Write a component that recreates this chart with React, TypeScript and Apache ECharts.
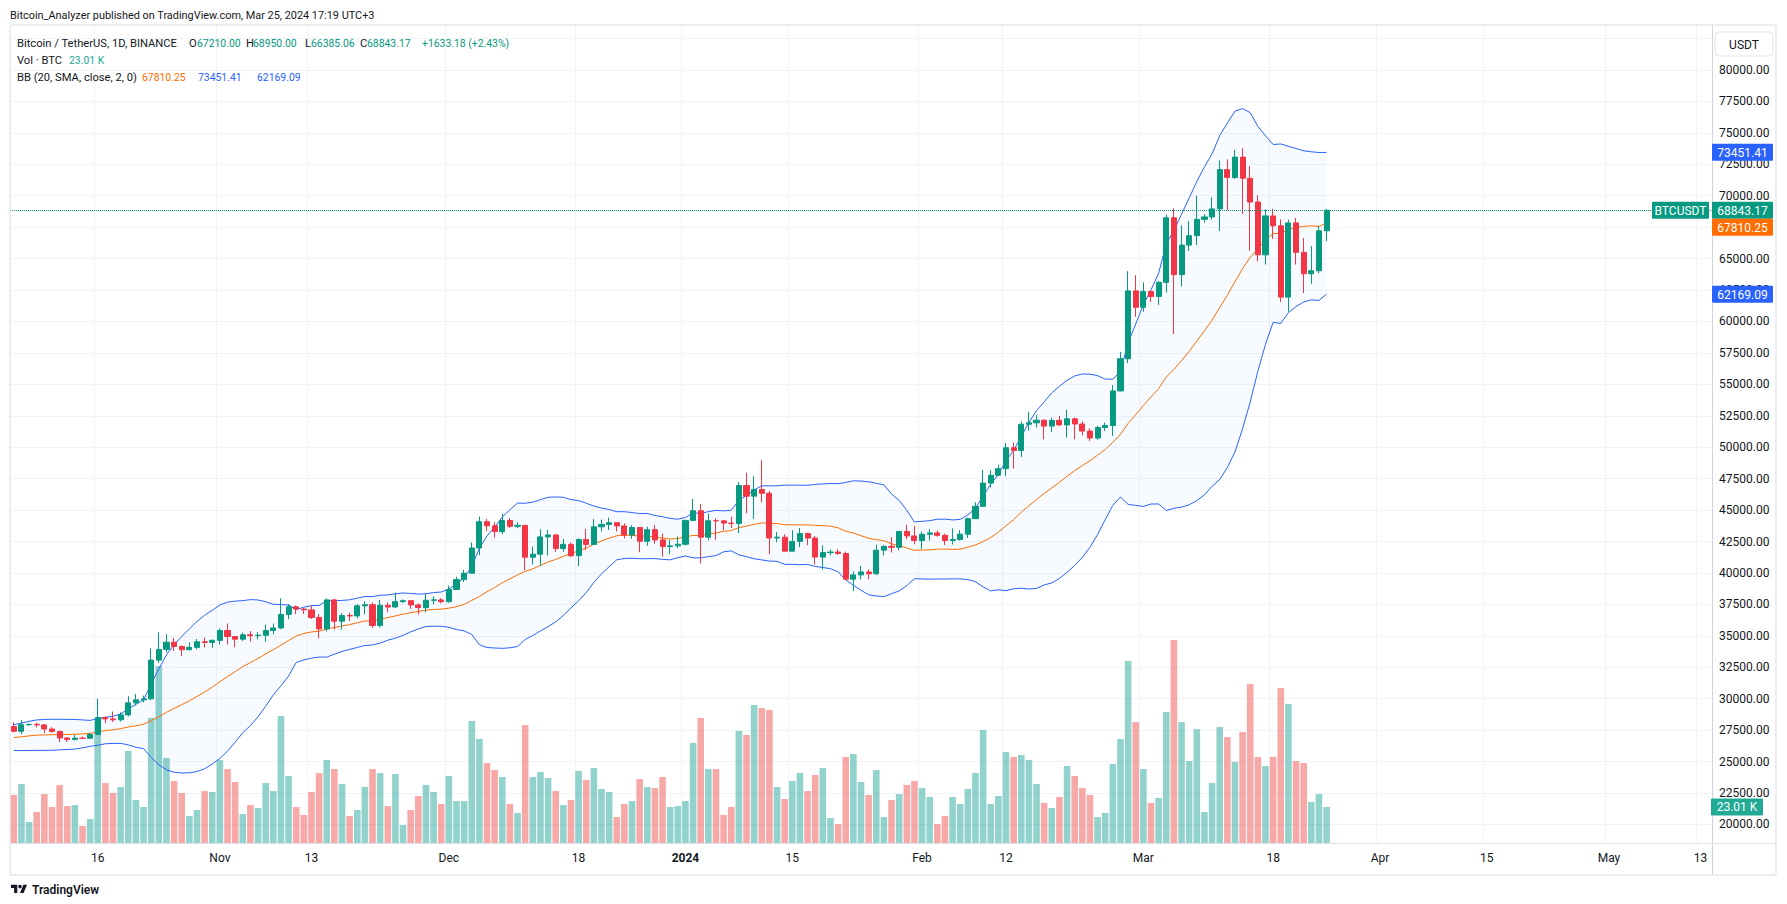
import React, { useEffect, useRef } from "react";
import * as echarts from "echarts";

const FONT = "Roboto, 'Noto Sans', 'DejaVu Sans', sans-serif";
const TEXT = "#131722";
const UP = "#089981";
const DOWN = "#f23645";
const VOL_UP = "rgba(38,166,154,0.5)";
const VOL_DOWN = "rgba(239,83,80,0.5)";
const BB_BLUE = "#2962ff";
const BB_ORANGE = "#ff6d00";
const GRID = "#f0f3fa";

// ---------- data ----------
const firstDay = [2023, 9, 5]; // 2023-10-05 (month 0-based)
const dayCount = 223; // Oct 5 2023 .. May 14 2024

const tickLabels: [string, string][] = [
  ["2023-10-16", "16"], ["2023-11-01", "Nov"], ["2023-11-13", "13"], ["2023-12-01", "Dec"],
  ["2023-12-18", "18"], ["2024-01-01", "2024"], ["2024-01-15", "15"], ["2024-02-01", "Feb"],
  ["2024-02-12", "12"], ["2024-03-01", "Mar"], ["2024-03-18", "18"], ["2024-04-01", "Apr"],
  ["2024-04-15", "15"], ["2024-05-01", "May"], ["2024-05-13", "13"],
];

// closes of Sep 16 .. Oct 4 2023 (only needed for the 20-day Bollinger window)
const warmupCloses = [
  26570, 26530, 26760, 27210, 27130, 26570, 26580, 26580, 26250, 26300,
  26210, 26350, 27020, 26910, 26970, 27990, 27500, 27430, 27790,
];

const opens = [
  27779, 27410, 27931, 27956, 27917, 27590, 27390, 26875, 26760, 26863, 26853, 27154, 28500, 28395, 28320, 28713, 29669, 29909, 29992, 33069, 33922, 34496, 34151, 33892, 34082, 34525, 34475,
  34639, 35421, 34941, 34731, 35082, 35011, 35047, 35425, 35625, 36702, 37310, 37130, 37064, 36462, 35551, 37858, 36163, 36613, 36585, 37387, 37476, 35814, 37432, 37289, 37720, 37797, 37454, 37242, 37832, 37859,
  37713, 38688, 39476, 39979, 41987, 44080, 43746, 43293, 44170, 43713, 43789, 41253, 41492, 42869, 43022, 41941, 42278, 41374, 42657, 42271, 43668, 43861, 43997, 43740, 43016, 43613, 42520, 43442, 42627, 42099, 42156,
  42283, 44180, 44946, 42845, 44152, 44145, 43968, 43929, 46951, 46110, 46633, 46339, 42782, 42847, 41732, 42511, 43137, 42776, 41262, 41618, 41665, 41545, 39507, 39846, 40077, 39934, 41816, 42120, 42035, 43300, 42946,
  42582, 43075, 43185, 42992, 42583, 42658, 43084, 44318, 45301, 47147, 47771, 48293, 49958, 49743, 51826, 51939, 52148, 51679, 52137, 51774, 52258, 51849, 51283, 50732, 51571, 51733, 54477, 57037, 62432,
  61130, 62387, 61987, 63113, 68246, 63724, 66074, 66823, 68124, 68313, 68955, 72078, 71452, 73072, 71388, 69499, 65300, 68393, 67609, 61937, 67840, 65501, 63796, 64037, 67210,
];
const highs = [
  28120, 28295, 28029, 28100, 27987, 27735, 27477, 26947, 27130, 26990, 27293, 30000, 28613, 28982, 28916, 30208, 30380, 30248, 34000, 35280, 35132, 34824, 34245, 34478, 34750, 34855, 34720,
  35576, 35984, 34946, 35260, 35380, 35286, 35892, 35980, 37972, 37526, 37400, 37222, 37417, 36744, 37980, 37929, 36800, 36845, 37509, 37750, 37651, 37856, 37653, 38432, 37893, 37827, 37589, 38377, 38150, 38000,
  38999, 39700, 40250, 42420, 44488, 44300, 44049, 44700, 44358, 44042, 43804, 42104, 43475, 43420, 43080, 42700, 42424, 42756, 43497, 44283, 44242, 44398, 43997, 43946, 43800, 43648, 43683, 43805, 43125, 42612, 42899,
  44186, 45879, 45500, 44729, 44342, 44214, 44480, 47248, 47972, 47695, 48969, 46515, 43257, 43079, 43400, 43578, 43198, 42930, 42196, 41861, 41878, 41689, 40129, 40555, 40288, 42246, 42200, 42842, 43306, 43838, 43745,
  43285, 43488, 43380, 43119, 43544, 43400, 44400, 45614, 48200, 48170, 48600, 50334, 50368, 52043, 52820, 52575, 52200, 52356, 52488, 52985, 52366, 52060, 51500, 51698, 51950, 54938, 57588, 64000, 63676,
  63114, 62433, 63231, 68499, 69000, 67637, 67985, 69990, 68541, 69887, 72800, 72900, 73650, 73777, 72357, 70043, 68904, 68956, 68124, 68100, 68240, 66650, 65999, 67622, 68950,
];
const lows = [
  27333, 27175, 27842, 27711, 27260, 27298, 26538, 26555, 26685, 26814, 26808, 27112, 28069, 28142, 28176, 28600, 29464, 29702, 29884, 32832, 33676, 33800, 33396, 33860, 33930, 34067, 34054,
  34300, 34300, 34099, 34582, 34528, 34728, 34525, 35110, 35534, 36333, 36732, 36731, 36333, 34800, 35361, 35500, 35500, 36178, 36390, 36700, 35632, 35670, 36870, 37251, 37617, 37151, 36700, 36868, 37500, 37589,
  37629, 38654, 39275, 39979, 41414, 43335, 42821, 43081, 43584, 43565, 40222, 40680, 40555, 41400, 41666, 41677, 41250, 40542, 41811, 42206, 43286, 43412, 43293, 42747, 42720, 41650, 42167, 42320, 41300, 41520, 41965,
  42180, 44148, 40750, 42613, 42632, 43397, 43572, 43175, 44748, 44300, 45606, 41500, 42436, 41720, 41718, 42050, 42200, 40683, 40280, 41394, 41446, 39431, 38555, 39484, 39500, 39822, 41395, 41620, 41804, 42683, 42276,
  41884, 42574, 42880, 42222, 42258, 42574, 42788, 44318, 45242, 46800, 47710, 47713, 48300, 49225, 51315, 51577, 50625, 51200, 51677, 50760, 50625, 50932, 50500, 50585, 51281, 50901, 54450, 56691, 60364,
  60777, 61561, 61321, 62300, 59005, 62787, 65602, 66082, 67862, 68094, 67194, 68845, 71333, 68555, 65630, 64780, 64533, 66565, 61555, 60775, 64529, 62260, 63000, 63825, 66385.06,
];
const closes = [
  27410, 27931, 27956, 27917, 27590, 27390, 26875, 26760, 26863, 26853, 27154, 28500, 28395, 28320, 28713, 29669, 29909, 29992, 33069, 33922, 34496, 34151, 33892, 34082, 34525, 34475, 34639,
  35421, 34941, 34731, 35082, 35011, 35047, 35425, 35625, 36702, 37310, 37130, 37064, 36462, 35551, 37858, 36163, 36613, 36585, 37387, 37476, 35814, 37432, 37289, 37720, 37797, 37454, 37242, 37832, 37859, 37713,
  38688, 39476, 39979, 41987, 44080, 43746, 43293, 44170, 43713, 43789, 41253, 41492, 42869, 43022, 41941, 42278, 41374, 42657, 42271, 43668, 43861, 43997, 43740, 43016, 43613, 42520, 43442, 42627, 42099, 42156, 42283,
  44180, 44946, 42845, 44152, 44145, 43968, 43929, 46951, 46110, 46633, 46339, 42782, 42847, 41732, 42511, 43137, 42776, 41262, 41618, 41665, 41545, 39507, 39846, 40077, 39934, 41816, 42120, 42035, 43300, 42946, 42582,
  43075, 43185, 42992, 42583, 42658, 43084, 44318, 45301, 47147, 47771, 48293, 49958, 49743, 51826, 51939, 52148, 51679, 52137, 51774, 52258, 51849, 51283, 50732, 51571, 51733, 54477, 57037, 62432, 61130,
  62387, 61987, 63113, 68246, 63724, 66074, 66823, 68124, 68313, 68955, 72078, 71452, 73072, 71388, 69499, 65300, 68393, 67609, 61937, 67840, 65501, 63796, 64037, 67210, 68843.17,
];
// volume in thousands of BTC
const volumesK = [
  30.7, 37.7, 13.4, 19.8, 31.3, 23.0, 37.1, 23.6, 24.3, 10.9, 15.3, 78.0, 38.3, 32.0, 35.8, 58.8, 27.5, 23.0, 80.0, 113.1, 54.3, 39.6, 32.0, 17.3, 21.1, 33.2, 32.6,
  53.0, 47.3, 39.0, 18.5, 24.3, 22.4, 38.3, 33.2, 81.2, 42.8, 23.0, 17.9, 32.6, 44.7, 53.0, 47.3, 37.7, 17.3, 21.1, 35.8, 47.3, 44.7, 23.6, 44.1, 11.5, 21.1, 30.0, 37.1, 32.6, 24.9,
  42.8, 26.8, 26.8, 78.0, 66.5, 51.1, 46.6, 42.2, 24.9, 19.2, 75.4, 42.2, 45.4, 41.5, 33.2, 24.3, 27.5, 46.0, 40.3, 47.9, 34.5, 32.6, 16.6, 24.9, 26.8, 40.9, 35.8, 35.1, 42.2, 23.0, 23.6,
  26.8, 63.9, 79.9, 47.3, 47.3, 17.9, 23.0, 71.6, 69.0, 88.2, 86.3, 85.0, 35.8, 28.1, 39.6, 44.7, 33.2, 43.5, 47.9, 16.0, 12.1, 55.0, 56.9, 39.0, 30.7, 46.6, 16.6, 27.5, 31.3, 37.1, 39.6,
  35.1, 29.4, 12.1, 17.3, 29.4, 24.9, 34.5, 44.7, 72.2, 24.9, 30.0, 58.1, 55.0, 56.2, 53.0, 37.7, 25.6, 22.4, 29.4, 49.2, 42.8, 35.1, 30.7, 16.6, 19.2, 50.5, 66.5, 116.3, 77.3,
  47.3, 25.6, 28.8, 83.7, 129.7, 77.3, 52.4, 72.8, 19.8, 38.3, 74.1, 67.7, 51.8, 70.9, 101.6, 55.0, 49.2, 55.0, 99.0, 88.8, 52.4, 51.1, 26.2, 31.3, 23.01,
];

// legend / tag values as printed by TradingView
const lastClose = 68843.17;
const lastVolumeK = 23.01;
const bbLast = { mid: 67810.25, upper: 73451.41, lower: 62169.09 };

// ---------- helpers ----------
function buildDates(): string[] {
  const out: string[] = [];
  const t0 = Date.UTC(firstDay[0], firstDay[1], firstDay[2]);
  for (let i = 0; i < dayCount; i++) out.push(new Date(t0 + i * 86400000).toISOString().slice(0, 10));
  return out;
}

function bollinger(period: number, mult: number) {
  const all = [...warmupCloses, ...closes];
  const off = warmupCloses.length;
  const mid: number[] = [], up: number[] = [], lo: number[] = [];
  for (let i = 0; i < closes.length; i++) {
    const w = all.slice(i + off - period + 1, i + off + 1);
    const m = w.reduce((a, b) => a + b, 0) / period;
    const sd = Math.sqrt(w.reduce((a, b) => a + (b - m) * (b - m), 0) / period);
    mid.push(m);
    up.push(m + mult * sd);
    lo.push(m - mult * sd);
  }
  return { mid, up, lo };
}

const TV_LOGO = "M14 22H7V11H0V4h14v18z M28 22h-8l7.5-18h8L28 22z M24 8a4 4 0 1 1-8 0a4 4 0 0 1 8 0z";
echarts.graphic.registerShape("tvlogo", echarts.graphic.extendPath(TV_LOGO, {}) as any);

// price mapping of the plot: 80000 at y=70, 0.012574 px per USDT
const PLOT_TOP = 26;
const PLOT_BOTTOM = 843;
const PX_PER_USD = 0.012574;
const priceAt = (y: number) => 80000 - (y - 70) / PX_PER_USD;
const yOf = (p: number) => 70 + (80000 - p) * PX_PER_USD;
const VOL_PER_PX = 0.639;

function buildOption() {
  const dates = buildDates();
  const labelMap: Record<string, string> = {};
  tickLabels.forEach(([d, l]) => (labelMap[d] = l));
  const showTick = (_i: number, v: string) => labelMap[v] !== undefined;
  const bb = bollinger(20, 2);

  const candles = closes.map((c, i) => [opens[i], c, lows[i], highs[i]]);
  const vols = volumesK.map((v, i) => ({
    value: v,
    itemStyle: { color: closes[i] >= opens[i] ? VOL_UP : VOL_DOWN },
  }));

  return {
    animation: false,
    backgroundColor: "#ffffff",
    textStyle: { fontFamily: FONT },
    grid: [
      { left: 10, top: PLOT_TOP, width: 1702, height: PLOT_BOTTOM - PLOT_TOP, containLabel: false },
      { left: 10, top: yOf(82500), width: 1702, height: yOf(20000) - yOf(82500), containLabel: false },
    ],
    xAxis: [
      {
        type: "category",
        gridIndex: 0,
        data: dates,
        boundaryGap: true,
        axisLine: { show: false },
        axisTick: { show: false },
        axisLabel: {
          interval: showTick,
          formatter: (v: string) => (labelMap[v] === "2024" ? "{b|2024}" : labelMap[v] || ""),
          color: TEXT,
          fontSize: 12,
          fontFamily: FONT,
          margin: 9,
          rich: { b: { fontWeight: "bold", fontSize: 12, color: TEXT, fontFamily: FONT } },
        },
        splitLine: { show: true, interval: showTick, lineStyle: { color: GRID, width: 1 } },
      },
      { type: "value", gridIndex: 1, min: 0, max: 1, show: false },
    ],
    yAxis: [
      { type: "value", gridIndex: 0, min: priceAt(PLOT_BOTTOM), max: priceAt(PLOT_TOP), show: false },
      { type: "value", gridIndex: 0, min: 0, max: (PLOT_BOTTOM - PLOT_TOP) * VOL_PER_PX, show: false },
      {
        type: "value",
        gridIndex: 1,
        position: "right",
        min: 20000,
        max: 82500,
        interval: 2500,
        axisLine: { show: false },
        axisTick: { show: false },
        axisLabel: {
          showMaxLabel: false,
          showMinLabel: true,
          formatter: (v: number) => v.toFixed(2),
          color: TEXT,
          fontSize: 12,
          fontFamily: FONT,
          margin: 7,
        },
        splitLine: { show: true, lineStyle: { color: GRID, width: 1 } },
      },
    ],
    series: [
      { type: "line", xAxisIndex: 1, yAxisIndex: 2, data: [], silent: true },
      {
        name: "Volume",
        type: "bar",
        xAxisIndex: 0,
        yAxisIndex: 1,
        data: vols,
        barWidth: 6.6,
        z: 1,
        silent: true,
      },
      {
        name: "bbBase",
        type: "line",
        stack: "bb",
        data: bb.lo,
        symbol: "none",
        lineStyle: { opacity: 0 },
        z: 2,
        silent: true,
      },
      {
        name: "bbBand",
        type: "line",
        stack: "bb",
        data: bb.up.map((u, i) => u - bb.lo[i]),
        symbol: "none",
        lineStyle: { opacity: 0 },
        areaStyle: { color: "rgba(33,150,243,0.05)" },
        z: 2,
        silent: true,
      },
      { name: "Upper", type: "line", data: bb.up, symbol: "none", lineStyle: { color: BB_BLUE, width: 1 }, z: 3, silent: true },
      { name: "Lower", type: "line", data: bb.lo, symbol: "none", lineStyle: { color: BB_BLUE, width: 1 }, z: 3, silent: true },
      { name: "Basis", type: "line", data: bb.mid, symbol: "none", lineStyle: { color: BB_ORANGE, width: 1 }, z: 3, silent: true },
      {
        name: "BTCUSDT",
        type: "candlestick",
        data: candles,
        barWidth: 5.6,
        z: 4,
        silent: true,
        itemStyle: { color: UP, color0: DOWN, borderColor: UP, borderColor0: DOWN, borderWidth: 1 },
        markLine: {
          silent: true,
          symbol: ["none", "none"],
          label: { show: false },
          lineStyle: { color: UP, type: "dotted", width: 1 },
          data: [{ yAxis: lastClose }],
        },
      },
    ],
  };
}

function txt(x: number, y: number, text: string, fill: string, size = 10.4, align = "left", weight: any = "normal", z = 20) {
  return {
    type: "text",
    x,
    y,
    z,
    silent: true,
    style: {
      text,
      fill,
      fontSize: size,
      fontFamily: FONT,
      fontWeight: weight,
      textAlign: align,
      align,
      textVerticalAlign: "middle",
      verticalAlign: "middle",
    },
  };
}

function tag(x: number, yCenter: number, w: number, label: string, bg: string) {
  const h = 17;
  return [
    { type: "rect", z: 30, silent: true, shape: { x, y: yCenter - h / 2, width: w, height: h, r: 1 }, style: { fill: bg } },
    txt(x + w / 2, yCenter + 0.5, label, "#ffffff", 12, "center", "normal", 31),
  ];
}

const LBL = 11.2; // legend caption size

function buildGraphics(chart: any) {
  const py = (v: number) => chart.convertToPixel({ yAxisIndex: 0 }, v) as number;
  const vy = (v: number) => chart.convertToPixel({ yAxisIndex: 1 }, v) as number;

  const yClose = py(lastClose);
  const yMid = Math.max(py(bbLast.mid), yClose + 17);
  const yUp = py(bbLast.upper);
  const yLo = py(bbLast.lower);
  const yVol = vy(lastVolumeK);

  const els: any[] = [
    // frame & separators
    { type: "rect", z: 15, silent: true, shape: { x: 10, y: 25, width: 1766, height: 850, r: 2 }, style: { fill: "none", stroke: "#e6e8ee", lineWidth: 1.5 } },
    { type: "line", z: 15, silent: true, shape: { x1: 1712.5, y1: 25, x2: 1712.5, y2: 875 }, style: { stroke: "#d1d4dc", lineWidth: 1 } },
    { type: "line", z: 15, silent: true, shape: { x1: 10, y1: 843.5, x2: 1776, y2: 843.5 }, style: { stroke: "#e0e3eb", lineWidth: 1 } },
    // header
    txt(10, 15, "Bitcoin_Analyzer published on TradingView.com, Mar 25, 2024 17:19 UTC+3", TEXT, 10.9),
    // legend line 1
    txt(17, 43, "Bitcoin / TetherUS, 1D, BINANCE", TEXT, LBL),
    txt(189, 43, "O", TEXT, LBL), txt(197, 43, "67210.00", UP),
    txt(246, 43, "H", TEXT, LBL), txt(253, 43, "68950.00", UP),
    txt(305, 43, "L", TEXT, LBL), txt(311, 43, "66385.06", UP),
    txt(360, 43, "C", TEXT, LBL), txt(367, 43, "68843.17", UP),
    txt(422, 43, "+1633.18 (+2.43%)", UP),
    // legend line 2
    txt(17, 60, "Vol · BTC", TEXT, LBL), txt(69, 60, "23.01 K", "#22ab94"),
    // legend line 3
    txt(17, 77, "BB (20, SMA, close, 2, 0)", TEXT, LBL),
    txt(142, 77, bbLast.mid.toFixed(2), BB_ORANGE),
    txt(198, 77, bbLast.upper.toFixed(2), BB_BLUE),
    txt(257, 77, bbLast.lower.toFixed(2), BB_BLUE),
    // USDT box
    { type: "rect", z: 20, silent: true, shape: { x: 1715, y: 32, width: 58, height: 24, r: 4 }, style: { fill: "#ffffff", stroke: "#e0e3eb", lineWidth: 1 } },
    txt(1744, 44.5, "USDT", TEXT, 12, "center"),
    // price tags
    ...tag(1712, yUp, 61, bbLast.upper.toFixed(2), BB_BLUE),
    ...tag(1652, yClose, 57, "BTCUSDT", UP),
    ...tag(1712, yClose, 61, lastClose.toFixed(2), UP),
    ...tag(1712, yMid, 61, bbLast.mid.toFixed(2), BB_ORANGE),
    ...tag(1712, yLo, 61, bbLast.lower.toFixed(2), BB_BLUE),
    ...tag(1711, yVol, 52, lastVolumeK.toFixed(2) + " K", "#22ab94"),
    // TradingView mark
    { type: "tvlogo", z: 20, silent: true, x: 11, y: 883, scaleX: 0.45, scaleY: 0.45, style: { fill: TEXT } },
    txt(32, 889.5, "TradingView", TEXT, 12, "left", 600),
  ];
  return els;
}

export default function App() {
  const ref = useRef<HTMLDivElement>(null);
  useEffect(() => {
    document.body.style.margin = "0";
    const chart = echarts.init(ref.current as HTMLDivElement, null, { renderer: "svg" });
    chart.setOption(buildOption() as any);
    chart.setOption({ graphic: buildGraphics(chart) } as any);
    return () => chart.dispose();
  }, []);
  return <div ref={ref} style={{ width: 1787, height: 904 }} />;
}
